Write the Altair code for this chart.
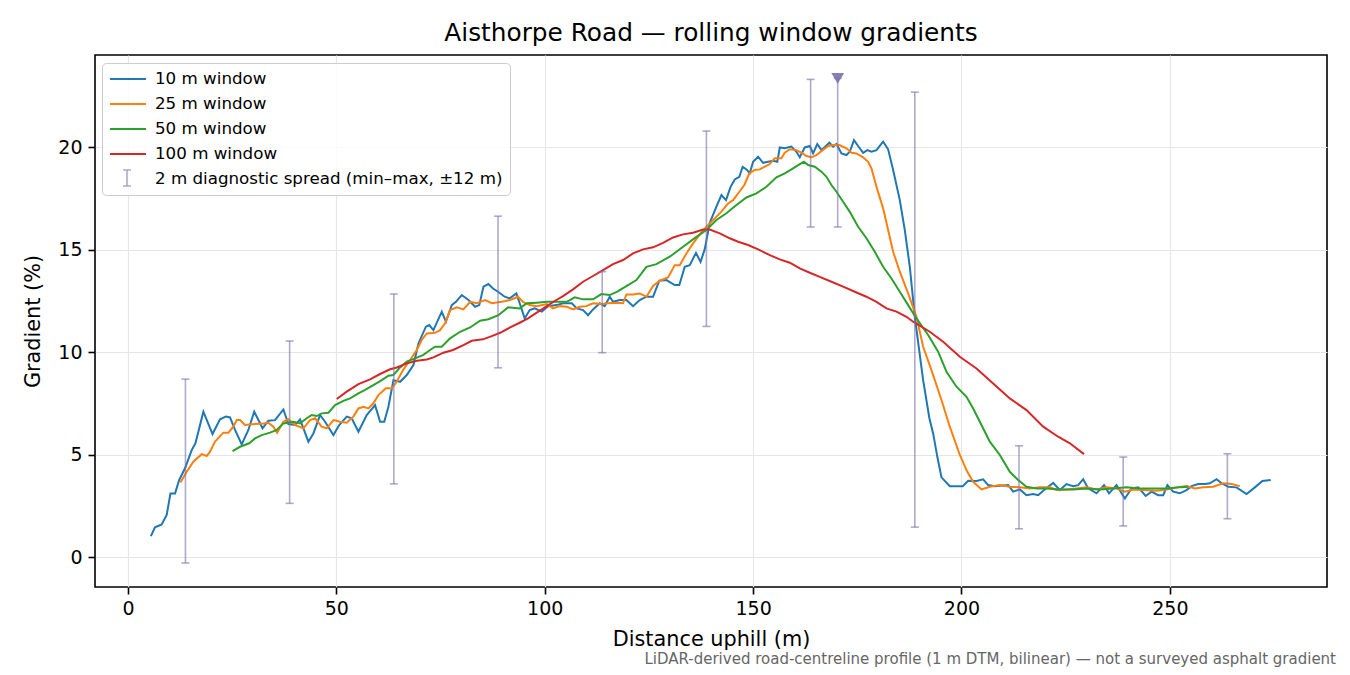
import pandas as pd
import altair as alt

# 10 m rolling window
x10 = [5.5, 6.5, 8.1, 9.3, 10.2, 11.3, 12.3, 13.7, 15.3, 16.2, 18.1, 20.3, 22.1, 23.5, 24.5, 25.7,
       27.3, 28.9, 30.3, 32.3, 33.7, 35.3, 37.3, 38.5, 40.1, 41.3, 43.3, 44.5, 46.1, 47.3, 49.3,
       50.7, 52.5, 53.7, 55.3, 57.3, 59.3, 60.5, 61.5, 62.5, 63.7, 65.3, 66.9, 68.5, 69.7, 71.5,
       72.3, 73.3, 75.3, 76.3, 77.7, 78.7, 80.1, 81.7, 83.3, 84.3, 85.3, 86.5, 87.6, 88.8, 90.4,
       91.6, 93.2, 94.0, 95.2, 96.4, 97.6, 99.3, 100.8, 102.8, 104.4, 106.5, 107.7, 109.2, 110.4,
       111.6, 113.2, 114.4, 115.6, 116.4, 118.0, 119.6, 121.2, 122.8, 124.4, 126.0, 127.5, 129.2,
       131.2, 132.3, 133.6, 134.8, 136.3, 137.4, 138.4, 139.6, 141.2, 142.4, 143.5, 144.6, 145.6,
       146.7, 147.5, 148.4, 149.2, 150.0, 151.2, 152.4, 153.6, 154.8, 155.8, 156.4, 157.6, 159.2,
       160.4, 161.2, 162.4, 163.6, 164.4, 165.4, 166.4, 168.3, 169.2, 170.0, 171.2, 172.4, 173.2,
       174.2, 175.2, 176.4, 177.4, 178.4, 179.6, 181.2, 182.4, 183.6, 185.2, 186.4, 187.6, 188.8,
       190.8, 192.3, 193.2, 194.2, 195.2, 197.2, 198.8, 200.3, 201.6, 203.6, 205.2, 206.4, 208.0,
       211.2, 212.4, 214.0, 215.6, 217.2, 218.4, 219.6, 220.8, 222.0, 223.6, 225.2, 226.8, 228.0,
       229.2, 230.4, 232.4, 234.2, 235.4, 237.2, 239.2, 240.8, 242.4, 244.2, 245.6, 247.2, 248.4,
       249.4, 250.8, 252.4, 254.0, 255.2, 256.8, 258.4, 259.6, 261.2, 262.4, 264.0, 266.0, 268.4,
       270.4, 272.2, 274.2]
g10 = [1.02, 1.45, 1.59, 2.05, 3.1, 3.1, 3.76, 4.33, 5.22, 5.55, 7.09, 6.0, 6.72, 6.85, 6.81, 6.2,
       5.5, 6.2, 7.09, 6.28, 6.65, 6.68, 7.2, 6.49, 6.44, 6.72, 5.63, 6.03, 6.93, 6.6, 5.95,
       6.44, 6.85, 6.77, 6.11, 6.93, 7.41, 6.6, 6.6, 7.33, 8.63, 8.55, 8.88, 9.37, 10.42, 11.24,
       11.32, 11.07, 11.97, 11.48, 12.29, 12.45, 12.78, 12.54, 12.21, 12.29, 13.19, 13.32, 13.1, 12.94, 12.7,
       12.62, 12.86, 12.38, 11.64, 12.05, 12.13, 11.97, 12.24, 12.29, 12.38, 12.38, 12.13, 12.05, 11.8,
       12.08, 12.38, 12.24, 12.7, 12.45, 12.54, 12.54, 12.24, 12.54, 12.7, 12.7, 13.48, 13.51,
       13.27, 13.27, 14.16, 14.24, 14.84, 14.4, 15.02, 16.3, 17.09, 17.66, 17.41, 18.06, 18.42,
       18.55, 19.04, 18.91, 18.72, 19.28, 19.53, 19.23, 19.28, 19.33, 19.28, 19.98, 19.94, 20.02,
       19.77, 19.5, 19.98, 20.05, 19.69, 20.15, 19.85, 20.21, 20.02, 20.15, 19.69, 19.61, 19.77,
       20.34, 20.05, 19.72, 19.85, 19.77, 19.85, 20.26, 19.89, 18.88, 17.41, 15.95, 14.16, 11.72,
       8.63, 6.77, 6.03, 4.89, 3.89, 3.46, 3.46, 3.46, 3.72, 3.71, 3.79, 3.51, 3.46,
       3.51, 3.19, 3.3, 3.02, 3.07, 3.02, 3.23, 3.43, 3.62, 3.27, 3.56, 3.46, 3.51,
       3.8, 3.35, 3.11, 3.51, 3.11, 3.51, 2.86, 3.35, 3.4, 2.98, 3.19, 3.02, 3.02,
       3.51, 3.19, 3.11, 3.27, 3.46, 3.56, 3.56, 3.6, 3.8, 3.6, 3.43, 3.4, 3.07,
       3.4, 3.71, 3.76]

# 25 m rolling window
x25 = [12.6, 14.1, 15.7, 17.7, 18.9, 19.7, 20.9, 22.9, 24.1, 25.3, 26.1, 26.9, 28.1, 30.5, 32.5,
       33.7, 34.9, 35.8, 37.3, 38.5, 40.1, 42.1, 43.7, 44.9, 46.5, 47.7, 49.3, 50.9, 52.5, 54.1,
       55.3, 56.5, 57.7, 58.9, 60.1, 61.9, 63.3, 64.5, 66.0, 67.7, 69.3, 70.5, 71.7, 73.7, 74.9,
       76.1, 77.3, 78.9, 80.5, 82.1, 83.7, 85.7, 87.3, 89.7, 91.7, 93.6, 94.8, 96.4, 98.1, 100.5,
       102.0, 103.6, 105.3, 106.8, 108.4, 110.0, 111.6, 113.6, 115.2, 117.3, 118.8, 119.6, 121.2,
       122.8, 124.4, 126.0, 127.6, 129.6, 131.2, 132.4, 134.0, 135.6, 137.4, 139.2, 140.8, 142.4,
       144.0, 145.2, 146.7, 147.9, 149.1, 150.4, 151.6, 152.8, 154.0, 155.2, 156.8, 157.6, 158.8,
       160.4, 161.9, 162.8, 164.0, 165.2, 166.7, 168.0, 169.2, 170.7, 172.4, 173.6, 174.8, 176.4,
       177.6, 178.4, 179.6, 181.2, 182.4, 183.6, 185.2, 187.2, 189.2, 190.8, 192.8, 195.2, 197.2,
       199.6, 201.4, 202.8, 204.8, 206.8, 209.2, 211.6, 214.0, 216.4, 218.8, 221.2, 222.8, 225.2,
       227.6, 230.0, 232.4, 234.8, 237.2, 239.2, 241.2, 243.6, 246.8, 249.2, 251.6, 254.0, 256.0,
       258.0, 260.4, 262.8, 264.8, 266.8]
g25 = [3.64, 4.16, 4.65, 5.02, 4.93, 5.14, 5.63, 6.07, 6.07, 6.36, 6.68, 6.68, 6.44, 6.49, 6.52,
       6.55, 6.36, 6.06, 6.6, 6.72, 6.44, 6.28, 6.68, 6.77, 6.36, 6.28, 6.68, 6.6, 6.55, 6.85,
       7.25, 7.33, 7.25, 7.5, 7.9, 8.23, 8.23, 8.55, 9.12, 9.61, 10.1, 10.59, 10.91, 10.94, 11.07,
       11.4, 12.05, 12.18, 12.08, 12.45, 12.38, 12.54, 12.38, 12.45, 12.54, 12.7, 12.45, 12.29, 12.24, 12.34,
       12.13, 12.24, 12.21, 12.08, 12.21, 12.24, 12.38, 12.34, 12.38, 12.41, 12.38, 12.81, 12.81,
       12.86, 12.7, 13.22, 13.48, 13.64, 14.24, 14.24, 14.81, 15.3, 15.79, 16.2, 16.52, 16.85,
       17.25, 17.41, 17.82, 18.15, 18.72, 18.88, 18.91, 19.04, 19.17, 19.45, 19.45, 19.72, 19.89,
       19.85, 19.69, 19.56, 19.5, 19.61, 19.85, 20.05, 20.1, 20.1, 19.94, 19.72, 19.69, 19.5,
       19.28, 18.96, 18.06, 17.01, 15.95, 14.89, 13.92, 12.86, 11.72, 10.26, 9.12, 7.66, 6.36,
       4.98, 4.16, 3.67, 3.3, 3.43, 3.51, 3.43, 3.4, 3.35, 3.4, 3.4, 3.27, 3.3,
       3.35, 3.4, 3.3, 3.4, 3.35, 3.19, 3.3, 3.27, 3.23, 3.3, 3.4, 3.46, 3.35,
       3.4, 3.43, 3.6, 3.56, 3.46]

# 50 m rolling window
x50 = [25.1, 26.9, 29.1, 30.5, 32.1, 34.1, 35.7, 37.3, 39.7, 41.3, 42.9, 44.1, 45.3, 46.5, 48.1,
       49.7, 51.7, 53.3, 55.3, 56.9, 58.9, 60.9, 62.5, 63.7, 65.3, 66.9, 68.9, 70.8, 72.5, 73.7,
       75.3, 77.3, 79.7, 82.1, 84.5, 86.5, 88.9, 91.2, 94.0, 95.7, 98.1, 100.5, 102.8, 105.3,
       107.2, 109.2, 111.6, 113.6, 115.6, 117.3, 119.6, 122.0, 124.4, 126.8, 130.0, 133.2, 136.4,
       138.8, 141.2, 143.6, 146.0, 148.4, 150.8, 153.2, 155.6, 157.6, 159.2, 160.8, 162.2, 163.2,
       164.8, 166.4, 167.6, 168.8, 170.0, 171.6, 173.2, 175.2, 177.2, 179.2, 181.2, 183.2, 185.2,
       187.2, 189.2, 192.0, 194.4, 196.4, 198.8, 201.2, 202.8, 204.4, 206.8, 209.2, 211.6, 213.6,
       215.6, 218.0, 220.4, 223.6, 226.8, 230.0, 233.2, 236.4, 239.6, 242.8, 246.0, 249.2, 252.4,
       254.4]
g50 = [5.17, 5.38, 5.55, 5.79, 5.95, 6.07, 6.2, 6.52, 6.6, 6.52, 6.77, 6.93, 6.88, 7.01, 7.04,
       7.41, 7.62, 7.74, 7.98, 8.15, 8.39, 8.63, 8.85, 8.88, 9.25, 9.53, 9.69, 9.85, 10.1, 10.26,
       10.26, 10.67, 10.99, 11.2, 11.53, 11.6, 11.8, 12.18, 12.13, 12.38, 12.41, 12.45, 12.45, 12.45,
       12.67, 12.57, 12.57, 12.83, 12.78, 12.94, 13.22, 13.51, 14.16, 14.29, 14.65, 15.14, 15.62,
       15.95, 16.44, 16.77, 17.17, 17.54, 17.74, 18.06, 18.52, 18.72, 18.91, 19.12, 19.28, 19.12,
       19.04, 18.8, 18.55, 18.15, 17.82, 17.33, 16.84, 16.11, 15.55, 14.89, 14.16, 13.59, 12.94,
       12.29, 11.64, 10.83, 10.02, 9.04, 8.31, 7.82, 7.25, 6.6, 5.63, 4.98, 4.16, 3.76,
       3.43, 3.35, 3.35, 3.3, 3.3, 3.35, 3.3, 3.35, 3.4, 3.35, 3.35, 3.35, 3.4,
       3.43]

# 100 m rolling window
x100 = [50.1, 52.5, 55.3, 58.1, 60.5, 62.9, 64.5, 66.9, 69.3, 71.7, 73.3, 75.7, 78.0, 80.5, 82.5,
        85.2, 87.3, 89.3, 91.7, 94.0, 96.0, 98.1, 100.5, 102.4, 104.4, 106.8, 109.2, 111.6, 114.0,
        116.4, 118.8, 121.2, 123.6, 126.0, 128.4, 130.8, 133.2, 135.6, 138.0, 139.6, 142.0, 144.4,
        146.4, 148.8, 151.2, 154.0, 156.4, 158.8, 161.2, 163.6, 166.0, 168.8, 171.6, 174.4, 177.2,
        179.6, 182.0, 184.4, 186.8, 188.4, 192.4, 195.6, 199.6, 203.6, 207.6, 211.6, 215.6, 219.6,
        223.2, 226.0, 229.4]
g100 = [7.71, 8.07, 8.44, 8.67, 8.93, 9.16, 9.25, 9.45, 9.58, 9.64, 9.74, 9.97, 10.1, 10.34, 10.55,
        10.62, 10.78, 10.94, 11.2, 11.43, 11.64, 11.92, 12.24, 12.49, 12.73, 13.06, 13.43, 13.71, 14.0,
        14.29, 14.49, 14.81, 15.01, 15.11, 15.33, 15.59, 15.74, 15.82, 15.98, 15.98, 15.79, 15.55,
        15.38, 15.22, 15.01, 14.73, 14.52, 14.36, 14.08, 13.87, 13.67, 13.43, 13.19, 12.94, 12.7,
        12.45, 12.13, 11.97, 11.72, 11.48, 10.99, 10.5, 9.77, 9.2, 8.47, 7.74, 7.17, 6.36,
        5.87, 5.55, 5.02]

# 2 m diagnostic spread (min-max over +-12 m)
spread_x = [13.8, 38.8, 63.8, 88.8, 113.8, 138.8, 163.8, 170.3, 188.8, 213.8, 238.8, 263.8]
spread_lo = [-0.29, 2.62, 3.57, 9.23, 9.97, 11.25, 16.1, 16.1, 1.46, 1.38, 1.52, 1.87]
spread_hi = [8.68, 10.54, 12.83, 16.63, 13.92, 20.78, 23.3, 23.35, 22.68, 5.43, 4.88, 5.04]

# steepest point marker
peak_x = [170.3]
peak_y = [23.35]

series_names = ["10 m window", "25 m window", "50 m window", "100 m window"]
spread_name = "2 m diagnostic spread (min–max, ±12 m)"
line_colors = ["#1f77b4", "#ff7f0e", "#2ca02c", "#d62728"]
purple = "#7b6fa8"
footnote = "LiDAR-derived road-centreline profile (1 m DTM, bilinear) — not a surveyed asphalt gradient"

frames = []
for name, xs, gs in zip(series_names, [x10, x25, x50, x100], [g10, g25, g50, g100]):
    frames.append(pd.DataFrame({"dist": xs, "grad": gs, "series": name}))
lines_df = pd.concat(frames, ignore_index=True)

spread_df = pd.DataFrame({"dist": spread_x, "lo": spread_lo, "hi": spread_hi, "what": spread_name})
peak_df = pd.DataFrame({"dist": peak_x, "grad": peak_y})
note_df = pd.DataFrame({"t": [footnote]})

W, H = 1232, 532
font = "DejaVu Sans"

x_enc = alt.X("dist:Q", title="Distance uphill (m)",
              scale=alt.Scale(domain=[-7.9, 287.7], nice=False, zero=False),
              axis=alt.Axis(values=[0, 50, 100, 150, 200, 250]))
y_scale = alt.Scale(domain=[-1.46, 24.49], nice=False, zero=False)
y_axis = alt.Axis(values=[0, 5, 10, 15, 20])

lines = alt.Chart(lines_df).mark_line(strokeWidth=2).encode(
    x=x_enc,
    y=alt.Y("grad:Q", title="Gradient (%)", scale=y_scale, axis=y_axis),
    color=alt.Color(
        "series:N",
        scale=alt.Scale(domain=series_names + [spread_name], range=line_colors + ["transparent"]),
        legend=alt.Legend(
            title=None, orient="none", legendX=7, legendY=8,
            symbolType="M-1,0L3.5,0", symbolSize=256, symbolStrokeWidth=2,
            labelOffset=28, labelFont=font, labelFontSize=16.7, labelColor="black",
            labelLimit=700, padding=7, rowPadding=7,
            fillColor="rgba(255,255,255,0.8)", strokeColor="#cccccc", cornerRadius=4,
        ),
    ),
)

bars = alt.Chart(spread_df).mark_rule(strokeWidth=1.6, opacity=0.6).encode(
    x="dist:Q",
    y="lo:Q",
    y2="hi:Q",
    stroke=alt.Stroke(
        "what:N",
        scale=alt.Scale(domain=[spread_name], range=[purple]),
        legend=alt.Legend(
            title=None, orient="none", legendX=23, legendY=114,
            symbolType="M0,-1L0,1M-0.5,-1L0.5,-1M-0.5,1L0.5,1", symbolSize=256,
            symbolStrokeWidth=1.6, symbolOpacity=0.6, labelExpr="''", padding=0,
        ),
    ),
)

caps = alt.Chart(spread_df).transform_fold(["lo", "hi"], as_=["end", "val"]).mark_tick(
    orient="horizontal", size=8, thickness=1.6, opacity=0.6, color=purple
).encode(x="dist:Q", y="val:Q")

peak = alt.Chart(peak_df).mark_point(
    shape="triangle-down", filled=True, size=160, color=purple, opacity=0.9
).encode(x="dist:Q", y="grad:Q")

note = alt.Chart(note_df).mark_text(
    align="right", baseline="alphabetic", font=font, fontSize=15, color="#666666"
).encode(x=alt.value(W + 9), y=alt.value(609), text="t:N")

chart = alt.layer(lines, bars, caps, peak, note).properties(
    width=W,
    height=H,
    title=alt.TitleParams("Aisthorpe Road — rolling window gradients", offset=13,
                          baseline="alphabetic", frame="group", dy=24),
    padding={"left": 87, "top": 47, "right": 15, "bottom": 85},
    autosize=alt.AutoSizeParams(type="none"),
).configure_view(
    stroke="black", strokeWidth=1.6
).configure_axis(
    domain=False, grid=True, gridColor="#e6e6e6", gridWidth=1.2,
    tickColor="black", tickSize=7, tickWidth=1.6,
    labelFont=font, labelFontSize=19, labelColor="black",
    titleFont=font, titleFontSize=20.8, titleFontWeight="normal", titleColor="black",
).configure_axisX(
    labelPadding=5, titlePadding=11
).configure_axisY(
    labelPadding=6, titlePadding=14
).configure_title(
    font=font, fontSize=24.8, fontWeight="normal", color="black", anchor="middle"
)

chart.save("out.html", embed_options={"renderer": "svg", "actions": False})
